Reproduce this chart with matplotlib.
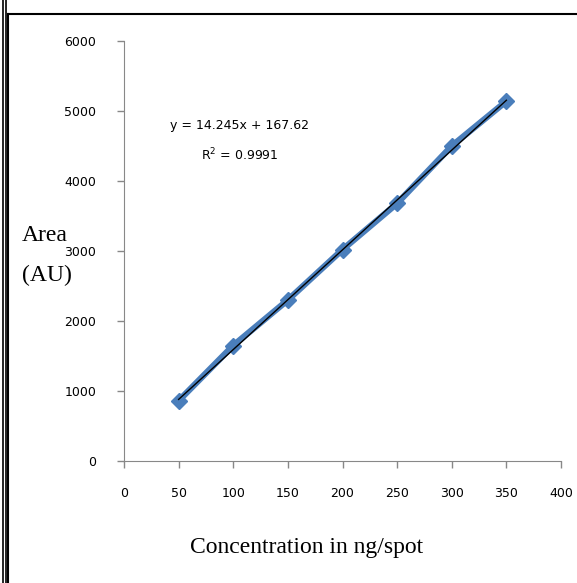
import numpy as np
import matplotlib.pyplot as plt
from matplotlib.lines import Line2D

# calibration data
conc = [50, 100, 150, 200, 250, 300, 350]
area = [860, 1650, 2300, 3020, 3680, 4500, 5140]
slope = 14.245
intercept = 167.62
r2 = 0.9991

xticks = [0, 50, 100, 150, 200, 250, 300, 350, 400]
yticks = [0, 1000, 2000, 3000, 4000, 5000, 6000]

tick_font = ['DejaVu Sans']
label_font = ['Liberation Serif', 'DejaVu Serif']

fig = plt.figure(figsize=(5.77, 5.83), dpi=100)
ax = fig.add_axes([124/577, 1-461/583, (561-124)/577, (461-41)/583])

ax.plot(conc, area, color='#4a7ebb', lw=4.5, marker='D', ms=8,
        solid_capstyle='round', zorder=2)
xfit = np.array([conc[0], conc[-1]])
ax.plot(xfit, slope*xfit + intercept, color='black', lw=1, zorder=3)

ax.text(106, 4790, 'y = %.3fx + %.2f' % (slope, intercept), ha='center', va='center',
        fontsize=9, family=tick_font)
ax.text(106, 4370, 'R$^2$ = %.4f' % r2, ha='center', va='center',
        fontsize=9, family=tick_font)

ax.set_xlim(0, 400)
ax.set_ylim(0, 6000)
ax.set_xticks(xticks)
ax.set_yticks(yticks)
for lab in ax.get_xticklabels() + ax.get_yticklabels():
    lab.set_family(tick_font)
    lab.set_fontsize(9)
ax.spines['top'].set_visible(False)
ax.spines['right'].set_visible(False)
for s in ['left', 'bottom']:
    ax.spines[s].set_color('#888888')
ax.tick_params(axis='both', color='#888888', length=5, width=1)
ax.tick_params(axis='x', pad=14)
ax.tick_params(axis='y', pad=15)

fig.text(307/577, 1-548/583, 'Concentration in ng/spot', fontsize=17,
         family=label_font, ha='center', va='center')
fig.text(22/577, 1-236/583, 'Area', fontsize=17, family=label_font,
         va='center', ha='left')
fig.text(22/577, 1-275/583, '(AU)', fontsize=17, family=label_font,
         va='center', ha='left')

# page frame lines
fig.add_artist(Line2D([2.5/577, 2.5/577], [0, 1], color='black', lw=1.2))
fig.add_artist(Line2D([5.5/577, 5.5/577], [0, 1], color='black', lw=1.2))
fig.add_artist(Line2D([8/577, 8/577], [0, 1-14/583], color='black', lw=1.5))
fig.add_artist(Line2D([8/577, 1], [1-14/583, 1-14/583], color='black', lw=1.5))

fig.savefig('out.png', dpi=100)
